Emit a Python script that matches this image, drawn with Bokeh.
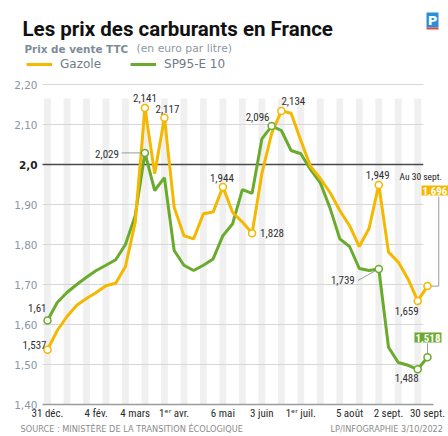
import pandas as pd
from bokeh.plotting import figure
from bokeh.models import Range1d, Label, Legend, LegendItem, BoxAnnotation
from bokeh.core.properties import value
from bokeh.embed import file_html
from bokeh.resources import INLINE

# ---------------- data ----------------
dates = pd.date_range("2021-12-31", periods=40, freq="7D")
gazole = [1.537, 1.585, 1.62, 1.648, 1.665, 1.68, 1.697, 1.703, 1.745, 1.855,
          2.141, 1.977, 2.117, 1.893, 1.822, 1.814, 1.877, 1.881, 1.944, 1.88,
          1.856, 1.828, 1.977, 2.077, 2.134, 2.128, 2.06, 1.995, 1.965, 1.93,
          1.885, 1.847, 1.795, 1.84, 1.949, 1.781, 1.756, 1.714, 1.659, 1.696]
sp95 = [1.61, 1.655, 1.68, 1.70, 1.718, 1.735, 1.748, 1.762, 1.80, 1.872,
        2.029, 1.935, 1.967, 1.785, 1.748, 1.735, 1.748, 1.764, 1.822, 1.852,
        1.937, 1.928, 2.064, 2.096, 2.085, 2.035, 2.027, 1.987, 1.954, 1.891,
        1.814, 1.795, 1.74, 1.735, 1.739, 1.543, 1.505, 1.498, 1.488, 1.518]
y_ticks = [1.40, 1.50, 1.60, 1.70, 1.80, 1.90, 2.00, 2.10, 2.20]
y_tick_labels = ["1,40", "1,50", "1,60", "1,70", "1,80", "1,90", "2,0", "2,10", "2,20"]
x_tick_dates = ["2021-12-31", "2022-02-04", "2022-03-04", "2022-04-01", "2022-05-06",
                "2022-06-03", "2022-07-01", "2022-08-05", "2022-09-02", "2022-09-30"]
x_tick_labels = ["31 déc.", "4 fév.", "4 mars", "1ᵉʳ avr.", "6 mai",
                 "3 juin", "1ᵉʳ juil.", "5 août", "2 sept.", "30 sept."]
gazole_marked = [0, 10, 12, 18, 21, 24, 34, 38, 39]
sp95_marked = [0, 10, 23, 34, 38, 39]

# ---------------- styles ----------------
YELLOW = "#f5b800"
GREEN = "#6aaa2c"
NARROW = "'Liberation Sans Narrow', 'Roboto Condensed', 'DejaVu Sans Condensed', Roboto, sans-serif"
DAY = 86400000.0
W, H = 448, 436


def ms(d):
    return pd.Timestamp(d).value / 1e6


def fmt(v):
    return f"{v:g}".replace(".", ",")


x = [ms(d) for d in dates]
x0 = x[0]
xl = x[-1]

p = figure(width=W, height=H,
           x_range=Range1d(x0 - 33.77 * DAY, x0 + 288.09 * DAY),
           y_range=Range1d(1.32, 2.41),
           output_backend="svg", toolbar_location=None,
           x_axis_location=None, y_axis_location=None,
           min_border=0, outline_line_color=None,
           background_fill_color="white", border_fill_color="white")
p.grid.visible = False

# weekly stripes
p.vbar(x=x[::2], width=0.7 * 7 * DAY, top=2.165, bottom=y_ticks[0],
       fill_color="#f0f0f0", line_color=None)

# grid lines
gvals = [v for v in y_ticks if v not in (y_ticks[0], 2.0)]
gl = x0 - 3.6 * DAY
gr = xl - 3.0 * DAY
p.segment(x0=[gl] * len(gvals), x1=[gr] * len(gvals), y0=gvals, y1=gvals,
          line_color="#d6d6d6", line_width=1)
p.segment(x0=[gl], x1=[gr], y0=[2.0], y1=[2.0], line_color="#4a4a4a", line_width=1.3)
p.segment(x0=[gl], x1=[xl + 4.3 * DAY], y0=[y_ticks[0]], y1=[y_ticks[0]],
          line_color="#9c9c9c", line_width=1.5)

# tick labels
reg_i = [i for i, v in enumerate(y_ticks) if v != 2.0]
p.text(x=[x0] * len(reg_i), y=[y_ticks[i] for i in reg_i], text=[y_tick_labels[i] for i in reg_i],
       x_offset=-10, text_align="right", text_baseline="middle",
       text_font=value("DejaVu Sans"), text_font_size="10.5px", text_color="#8696a6")
bold_i = [i for i, v in enumerate(y_ticks) if v == 2.0]
p.text(x=[x0] * len(bold_i), y=[y_ticks[i] for i in bold_i], text=[y_tick_labels[i] for i in bold_i],
       x_offset=-10, text_align="right", text_baseline="middle",
       text_font=value("DejaVu Sans"), text_font_style="bold", text_font_size="10.5px",
       text_color="#1e1e1e")
p.text(x=[ms(d) for d in x_tick_dates], y=[y_ticks[0]] * len(x_tick_dates), text=x_tick_labels,
       y_offset=9, text_align="center", text_baseline="middle",
       text_font=value(NARROW), text_font_size="11px", text_color="#2b2b2b")

# series
r_s = p.line(x, sp95, line_color=GREEN, line_width=3)
r_g = p.line(x, gazole, line_color=YELLOW, line_width=3)

# leader lines
LEAD = "#9a9a9a"
p.segment(x0=[x[10] - 16.8 * DAY], x1=[x[10] - 3.0 * DAY], y0=[sp95[10]], y1=[sp95[10]],
          line_color=LEAD, line_width=1)
p.segment(x0=[x[34] - 15.0 * DAY], x1=[x[34] - 2.5 * DAY],
          y0=[sp95[34] - 0.029], y1=[sp95[34] - 0.005], line_color=LEAD, line_width=1)
p.line([xl + 2.5 * DAY, xl + 8.1 * DAY, xl + 8.1 * DAY],
       [gazole[-1], gazole[-1], gazole[-1] + 0.224], line_color=LEAD, line_width=1)
p.line([xl, xl], [sp95[-1] + 0.009, sp95[-1] + 0.035], line_color=LEAD, line_width=1)

# markers
p.scatter([x[i] for i in sp95_marked], [sp95[i] for i in sp95_marked], size=7,
          fill_color="white", line_color=GREEN, line_width=1.5)
p.scatter([x[i] for i in gazole_marked], [gazole[i] for i in gazole_marked], size=7,
          fill_color="white", line_color=YELLOW, line_width=1.5)

# value labels (series, index, dx, dy, align)
specs = [
    (gazole, 0, -1, -5, "right"),
    (gazole, 10, 0, -10.5, "center"),
    (gazole, 12, 3, -9, "center"),
    (gazole, 18, -1, -8.5, "center"),
    (gazole, 21, 8, 0, "left"),
    (gazole, 24, 12, -10, "center"),
    (gazole, 34, -1, -10, "center"),
    (gazole, 38, -11, 10, "center"),
    (sp95, 0, -1, -12.5, "right"),
    (sp95, 10, -26, 1.5, "right"),
    (sp95, 23, -14, -9, "center"),
    (sp95, 34, -24, 11, "right"),
    (sp95, 38, -11, 8.5, "center"),
]
for align in ("left", "center", "right"):
    sel = [s for s in specs if s[4] == align]
    p.text(x=[x[s[1]] for s in sel], y=[s[0][s[1]] for s in sel],
           text=[fmt(s[0][s[1]]) for s in sel],
           x_offset=[s[2] for s in sel], y_offset=[s[3] for s in sel],
           text_align=align, text_baseline="middle",
           text_font=value(NARROW), text_font_size="11px", text_color="#2f2f2f")

# end-of-period boxes
p.text(x=[xl], y=[gazole[-1]], text=["Au 30 sept."], x_offset=-28, y_offset=-109.6,
       text_align="left", text_baseline="middle",
       text_font=value(NARROW), text_font_size="9.5px", text_color="#222222")
p.text(x=[xl], y=[gazole[-1]], text=[fmt(gazole[-1])], x_offset=-6, y_offset=-95.6,
       text_align="left", text_baseline="middle",
       text_font=value(NARROW), text_font_style="bold", text_font_size="11px",
       text_color="white", background_fill_color=YELLOW, padding=1)
p.text(x=[xl], y=[sp95[-1]], text=[fmt(sp95[-1])], x_offset=0.5, y_offset=-19.8,
       text_align="center", text_baseline="middle",
       text_font=value(NARROW), text_font_style="bold", text_font_size="11px",
       text_color="white", background_fill_color=GREEN, padding=1)

# legend
legend = Legend(items=[LegendItem(label="Gazole", renderers=[r_g]),
                       LegendItem(label="SP95-E 10", renderers=[r_s])],
                location=(26, 365), orientation="horizontal",
                glyph_width=26, glyph_height=14, label_height=14, label_standoff=8,
                spacing=29, padding=0, margin=0, border_line_color=None,
                background_fill_alpha=0, label_text_font="DejaVu Sans",
                label_text_font_size="12px", label_text_color="#6f7c87")
p.add_layout(legend)

# titles & credits (screen units, relative to the frame bottom-left)
p.add_layout(Label(x=22, y=H - 28, x_units="screen", y_units="screen",
                   text="Les prix des carburants en France", text_font="Roboto",
                   text_font_style="bold", text_font_size="20.5px", text_color="#111111",
                   text_baseline="alphabetic"))
p.add_layout(Label(x=24, y=H - 48, x_units="screen", y_units="screen",
                   text="Prix de vente TTC", text_font="DejaVu Sans",
                   text_font_style="bold", text_font_size="10.4px", text_color="#7d8b98",
                   text_baseline="alphabetic"))
p.add_layout(Label(x=136, y=H - 48, x_units="screen", y_units="screen",
                   text="(en euro par litre)", text_font="DejaVu Sans",
                   text_font_size="10.8px", text_color="#8e99a4",
                   text_baseline="alphabetic"))

# logo
p.add_layout(BoxAnnotation(left=426, right=438, top=H - 12, bottom=H - 27,
                           left_units="screen", right_units="screen",
                           top_units="screen", bottom_units="screen",
                           fill_color="#2b8fd8", fill_alpha=1, line_color=None))
p.add_layout(BoxAnnotation(left=426, right=438, top=H - 27, bottom=H - 29,
                           left_units="screen", right_units="screen",
                           top_units="screen", bottom_units="screen",
                           fill_color="#e04a3c", fill_alpha=1, line_color=None))
p.add_layout(Label(x=432, y=H - 19.5, x_units="screen", y_units="screen",
                   text="P", text_font="DejaVu Sans", text_font_style="bold",
                   text_font_size="13px", text_color="white", text_align="center",
                   text_baseline="middle"))

p.add_layout(Label(x=20, y=H - 428, x_units="screen", y_units="screen",
                   text="SOURCE : MINISTÈRE DE LA TRANSITION ÉCOLOGIQUE", text_font="DejaVu Sans",
                   text_font_size="8.2px", text_color="#8c8c8c", text_baseline="middle"))
p.add_layout(Label(x=330, y=H - 428, x_units="screen", y_units="screen",
                   text="LP/INFOGRAPHIE 3/10/2022", text_font="DejaVu Sans",
                   text_font_size="8.2px", text_color="#8c8c8c", text_baseline="middle"))

open("out.html", "w").write(file_html(p, INLINE))
